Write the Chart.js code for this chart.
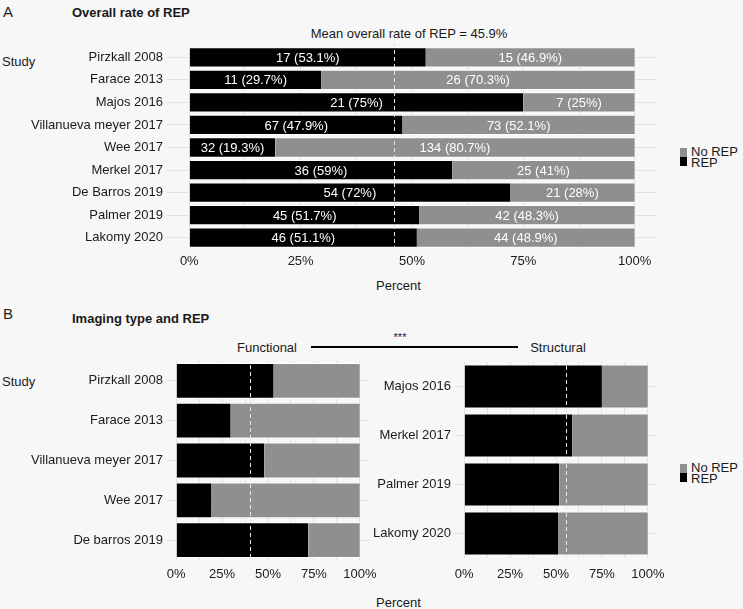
<!DOCTYPE html>
<html>
<head>
<meta charset="utf-8">
<script src="https://cdn.jsdelivr.net/npm/chart.js@4/dist/chart.umd.min.js"></script>
<style>
  html, body { margin: 0; padding: 0; }
  body {
    width: 743px; height: 609px; position: relative; overflow: hidden;
    background: #f7f7f7; font-family: "Liberation Sans", Arial, sans-serif; color: #1a1a1a;
  }
  canvas { position: absolute; }
  .t { position: absolute; white-space: nowrap; font-size: 13px; line-height: 15px; transform: translateY(-50%); }
  .c { transform: translate(-50%, -50%); }
  .b { font-weight: bold; }
  .sw { position: absolute; width: 7px; height: 9px; }
</style>
</head>
<body>

<div class="t" style="left:3px;top:11px;font-size:15px;">A</div>
<div class="t b" style="left:72px;top:12px;">Overall rate of REP</div>
<div class="t c" style="left:409px;top:33px;">Mean overall rate of REP = 45.9%</div>
<div class="t" style="left:2px;top:61px;">Study</div>
<div class="t" style="left:376px;top:285px;">Percent</div>

<div class="sw" style="left:680px;top:148px;background:#8f8f92;"></div>
<div class="sw" style="left:680px;top:157px;background:#000;"></div>
<div class="t" style="left:691px;top:151px;line-height:11px;">No REP</div>
<div class="t" style="left:691px;top:162px;line-height:11px;">REP</div>

<div class="t" style="left:3px;top:313px;font-size:15px;">B</div>
<div class="t b" style="left:72px;top:318px;">Imaging type and REP</div>
<div class="t c" style="left:267px;top:347px;">Functional</div>
<div class="t c" style="left:558px;top:347px;">Structural</div>
<div style="position:absolute;left:311px;top:346px;width:207px;height:1.5px;background:#000;"></div>
<div class="t c" style="left:400px;top:337px;font-size:11px;">***</div>
<div class="t" style="left:2px;top:381px;">Study</div>
<div class="t" style="left:376px;top:602px;">Percent</div>

<div class="sw" style="left:680px;top:464px;background:#8f8f92;"></div>
<div class="sw" style="left:680px;top:473px;background:#000;"></div>
<div class="t" style="left:691px;top:467px;line-height:11px;">No REP</div>
<div class="t" style="left:691px;top:478px;line-height:11px;">REP</div>

<canvas id="chartA" width="680" height="280" style="left:0;top:0;"></canvas>
<canvas id="chartFunc" width="400" height="290" style="left:0;top:300px;"></canvas>
<canvas id="chartStruct" width="420" height="290" style="left:300px;top:300px;"></canvas>

<script>
// --- datos panel A ---
const estudiosA = ['Pirzkall 2008', 'Farace 2013', 'Majos 2016', 'Villanueva meyer 2017', 'Wee 2017',
    'Merkel 2017', 'De Barros 2019', 'Palmer 2019', 'Lakomy 2020'];
const repN = [17, 11, 21, 67, 32, 36, 54, 45, 46];
const noRepN = [15, 26, 7, 73, 134, 25, 21, 42, 44];
const repPct = [53.1, 29.7, 75, 47.9, 19.3, 59, 72, 51.7, 51.1];
const noRepPct = [46.9, 70.3, 25, 52.1, 80.7, 41, 28, 48.3, 48.9];
const mediaA = 45.9;

// --- datos panel B ---
const estudiosFunc = ['Pirzkall 2008', 'Farace 2013', 'Villanueva meyer 2017', 'Wee 2017', 'De barros 2019'];
const repFunc = [53.1, 29.7, 47.9, 19.3, 72];
const noRepFunc = [46.9, 70.3, 52.1, 80.7, 28];
const mediaFunc = 40.2;

const estudiosStruct = ['Majos 2016', 'Merkel 2017', 'Palmer 2019', 'Lakomy 2020'];
const repStruct = [75, 59, 51.7, 51.1];
const noRepStruct = [25, 41, 48.3, 48.9];
const mediaStruct = 55.6;

const tickLabels = [0, 25, 50, 75, 100];
const gridValues = [0, 12.5, 25, 37.5, 50, 62.5, 75, 87.5, 100];

const COLOR_REP = '#000000';
const COLOR_NOREP = '#8f8f92';
const COLOR_GRID = '#e2e2e2';

Chart.defaults.font.family = '"Liberation Sans", Arial, sans-serif';
Chart.defaults.font.size = 13;
Chart.defaults.color = '#1a1a1a';

// linea punteada de la media
const lineaMedia = {
    id: 'lineaMedia',
    afterDatasetsDraw(chart, args, opts) {
        const ctx = chart.ctx;
        const x = chart.scales.x.getPixelForValue(opts.value);
        ctx.save();
        ctx.strokeStyle = '#e6e6e6';
        ctx.lineWidth = 1;
        ctx.setLineDash([4, 3]);
        ctx.beginPath();
        ctx.moveTo(Math.round(x) + 0.5, chart.chartArea.top - 3);
        ctx.lineTo(Math.round(x) + 0.5, chart.chartArea.bottom + 1);
        ctx.stroke();
        ctx.restore();
    }
};

// etiquetas dentro de las barras (solo panel A)
const etiquetasBarras = {
    id: 'etiquetasBarras',
    afterDatasetsDraw(chart, args, opts) {
        if (!opts.textos) return;
        const ctx = chart.ctx;
        ctx.save();
        ctx.fillStyle = '#ffffff';
        ctx.font = '13px "Liberation Sans", Arial, sans-serif';
        ctx.textAlign = 'center';
        ctx.textBaseline = 'middle';
        chart.data.datasets.forEach((ds, i) => {
            const meta = chart.getDatasetMeta(i);
            meta.data.forEach((bar, j) => {
                const cx = (bar.x + bar.base) / 2;
                ctx.fillText(opts.textos[i][j], cx, bar.y + 1);
            });
        });
        ctx.restore();
    }
};

function crearGrafico(canvas, labels, rep, noRep, media, cfg, textos) {
    return new Chart(canvas, {
        type: 'bar',
        data: {
            labels: labels,
            datasets: [
                {
                    label: 'REP', data: rep, backgroundColor: COLOR_REP,
                    borderColor: '#ffffff', borderWidth: { top: 1, bottom: 1, left: 0, right: 0 },
                    borderSkipped: false, categoryPercentage: 0.9, barPercentage: 1
                },
                {
                    label: 'No REP', data: noRep, backgroundColor: COLOR_NOREP,
                    borderColor: '#ffffff', borderWidth: { top: 1, bottom: 1, left: 0, right: 0 },
                    borderSkipped: false, categoryPercentage: 0.9, barPercentage: 1
                }
            ]
        },
        options: {
            indexAxis: 'y',
            responsive: false,
            animation: false,
            layout: { padding: { left: 0, top: cfg.top, right: cfg.right, bottom: 0 } },
            plugins: {
                legend: { display: false },
                tooltip: { enabled: false },
                lineaMedia: { value: media },
                etiquetasBarras: { textos: textos }
            },
            scales: {
                x: {
                    stacked: true,
                    min: -5,
                    max: 105,
                    afterBuildTicks: function (scale) {
                        scale.ticks = gridValues.map(v => ({ value: v }));
                    },
                    afterFit: function (scale) {
                        scale.height = cfg.xHeight;
                    },
                    grid: { color: COLOR_GRID, drawTicks: false },
                    border: { display: false },
                    ticks: {
                        autoSkip: false,
                        maxRotation: 0,
                        padding: cfg.xPad,
                        callback: function (value) {
                            return tickLabels.includes(value) ? value + '%' : '';
                        }
                    }
                },
                y: {
                    stacked: true,
                    afterFit: function (scale) {
                        scale.width = cfg.yWidth;
                    },
                    grid: { color: COLOR_GRID, drawTicks: false, offset: false },
                    border: { display: false },
                    ticks: { padding: 4 }
                }
            }
        },
        plugins: [lineaMedia, etiquetasBarras]
    });
}

const textosA = [
    repN.map((n, i) => `${n} (${repPct[i]}%)`),
    noRepN.map((n, i) => `${n} (${noRepPct[i]}%)`)
];

crearGrafico(document.getElementById('chartA'), estudiosA, repPct, noRepPct, mediaA,
    { top: 46, right: 23, xHeight: 31, xPad: 5, yWidth: 167 }, textosA);

crearGrafico(document.getElementById('chartFunc'), estudiosFunc, repFunc, noRepFunc, mediaFunc,
    { top: 61, right: 31, xHeight: 30, xPad: 7, yWidth: 167 }, null);

crearGrafico(document.getElementById('chartStruct'), estudiosStruct, repStruct, noRepStruct, mediaStruct,
    { top: 62, right: 63, xHeight: 32, xPad: 9, yWidth: 155 }, null);
</script>
</body>
</html>
